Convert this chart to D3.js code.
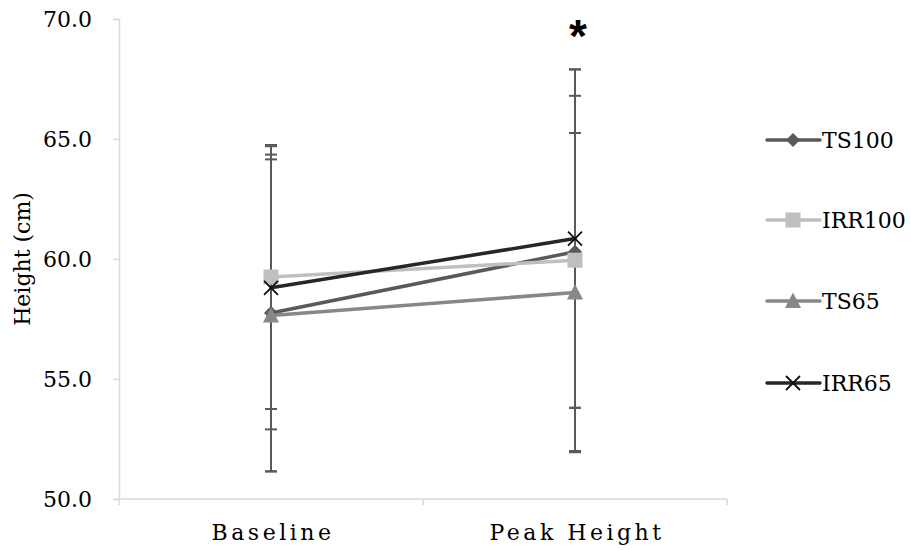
<!DOCTYPE html>
<html>
<head>
<meta charset="utf-8">
<script src="https://cdn.jsdelivr.net/npm/d3@7"></script>
<style>
  html, body { margin: 0; padding: 0; background: #fff; }
  svg { display: block; }
</style>
</head>
<body>
<svg id="chart" width="911" height="550"></svg>
<script>
// ---- data ----
const categories = ["Baseline", "Peak Height"];
const seriesNames = ["TS100", "IRR100", "TS65", "IRR65"];
const ts100 = [57.75, 60.3];
const irr100 = [59.25, 59.95];
const ts65 = [57.65, 58.6];
const irr65 = [58.8, 60.85];
const ts100Err = [6.6, 6.5];
const irr100Err = [5.5, 7.95];
const ts65Err = [6.5, 6.65];
const irr65Err = [5.9, 7.05];
const yTicks = [50, 55, 60, 65, 70];
const significance = ["", "*"];

// ---- styles ----
const colors = ["#595959", "#bfbfbf", "#878787", "#262626"];
const markers = ["diamond", "square", "triangle", "cross"];
const FONT = "'DejaVu Serif', 'Noto Serif', serif";
const FS = "22px";

const series = seriesNames.map((name, i) => ({
  name,
  values: [ts100, irr100, ts65, irr65][i],
  errs: [ts100Err, irr100Err, ts65Err, irr65Err][i],
  color: colors[i],
  marker: markers[i]
}));

const svg = d3.select("#chart");
const mLeft = 119, mRight = 727, mTop = 19, mBottom = 499;

const x = d3.scaleBand().domain(categories).range([mLeft, mRight]).padding(0);
const y = d3.scaleLinear().domain([50, 70]).range([mBottom, mTop]);
const cx = c => x(c) + x.bandwidth() / 2;

// ---- axes ----
const axisColor = "#d9d9d9";
const yAxis = svg.append("g").attr("transform", `translate(${mLeft},0)`)
  .call(d3.axisLeft(y).tickValues(yTicks).tickFormat(d3.format(".1f")).tickSizeOuter(0).tickSize(6).tickPadding(21));
yAxis.attr("font-family", null);
yAxis.select(".domain").attr("stroke", axisColor).attr("stroke-width", 1.5);
yAxis.selectAll(".tick line").attr("stroke", axisColor).attr("stroke-width", 1.5);
yAxis.selectAll(".tick text").style("font-family", FONT).style("font-size", FS).attr("fill", "#000").attr("dy", "0.35em");

const xAxisG = svg.append("g");
xAxisG.append("line").attr("x1", mLeft).attr("x2", mRight).attr("y1", mBottom).attr("y2", mBottom)
  .attr("stroke", axisColor).attr("stroke-width", 1.5);
const bounds = categories.map(c => x(c)).concat([x(categories[categories.length - 1]) + x.bandwidth()]);
xAxisG.selectAll("line.tk").data(bounds).join("line").attr("class", "tk")
  .attr("x1", d => d).attr("x2", d => d).attr("y1", mBottom).attr("y2", mBottom + 6)
  .attr("stroke", axisColor).attr("stroke-width", 1.5);
xAxisG.selectAll("text").data(categories).join("text")
  .attr("x", d => cx(d) + 2).attr("y", 540)
  .attr("text-anchor", "middle").style("font-family", FONT).style("font-size", FS).style("letter-spacing", "3.5px")
  .text(d => d);

// y title
svg.append("text").attr("transform", `translate(30,259) rotate(-90)`)
  .attr("text-anchor", "middle").style("font-family", FONT).style("font-size", FS).text("Height (cm)");

// ---- error bars ----
const errColor = "#595959";
series.forEach(s => {
  const g = svg.append("g");
  categories.forEach((c, j) => {
    const v = s.values[j], e = s.errs[j], xx = cx(c);
    g.append("line").attr("x1", xx).attr("x2", xx).attr("y1", y(v + e)).attr("y2", y(v - e))
      .attr("stroke", errColor).attr("stroke-width", 2);
    [v + e, v - e].forEach(t => {
      g.append("line").attr("x1", xx - 6).attr("x2", xx + 6).attr("y1", y(t)).attr("y2", y(t))
        .attr("stroke", errColor).attr("stroke-width", 2);
    });
  });
});

// ---- marker drawing ----
function drawMarker(g, type, px, py, color) {
  if (type === "diamond") {
    g.append("path").attr("d", `M${px},${py - 7}L${px + 7},${py}L${px},${py + 7}L${px - 7},${py}Z`).attr("fill", color);
  } else if (type === "square") {
    g.append("rect").attr("x", px - 7.5).attr("y", py - 7.5).attr("width", 15).attr("height", 15).attr("fill", color);
  } else if (type === "triangle") {
    g.append("path").attr("d", `M${px},${py - 8.5}L${px + 8},${py + 7}L${px - 8},${py + 7}Z`).attr("fill", color);
  } else if (type === "cross") {
    g.append("path").attr("d", `M${px - 7},${py - 7}L${px + 7},${py + 7}M${px - 7},${py + 7}L${px + 7},${py - 7}`)
      .attr("stroke", "#111").attr("stroke-width", 1.8).attr("fill", "none");
  }
}

// ---- lines & markers ----
const line = d3.line().x((d, j) => cx(categories[j])).y(d => y(d));
series.forEach(s => {
  const g = svg.append("g");
  g.append("path").attr("d", line(s.values)).attr("fill", "none")
    .attr("stroke", s.color).attr("stroke-width", 3.5).attr("stroke-linecap", "round");
  s.values.forEach((v, j) => drawMarker(g, s.marker, cx(categories[j]), y(v), s.color));
});

// ---- significance ----
svg.selectAll("text.sig").data(categories).join("text").attr("class", "sig")
  .attr("x", d => cx(d) + 3).attr("y", 52).attr("text-anchor", "middle")
  .style("font-size", "46px").style("font-weight", "bold").style("font-family", "'Liberation Sans', Arial, sans-serif")
  .text((d, j) => significance[j]);

// ---- legend ----
const legendY = [140, 220, 301, 383];
series.forEach((s, i) => {
  const g = svg.append("g");
  const ly = legendY[i];
  g.append("line").attr("x1", 767).attr("x2", 820).attr("y1", ly).attr("y2", ly)
    .attr("stroke", s.color).attr("stroke-width", 3.5).attr("stroke-linecap", "round");
  drawMarker(g, s.marker, 793, ly, s.color);
  g.append("text").attr("x", 822).attr("y", ly).attr("dy", "0.35em")
    .style("font-family", FONT).style("font-size", FS).text(s.name);
});
</script>
</body>
</html>
